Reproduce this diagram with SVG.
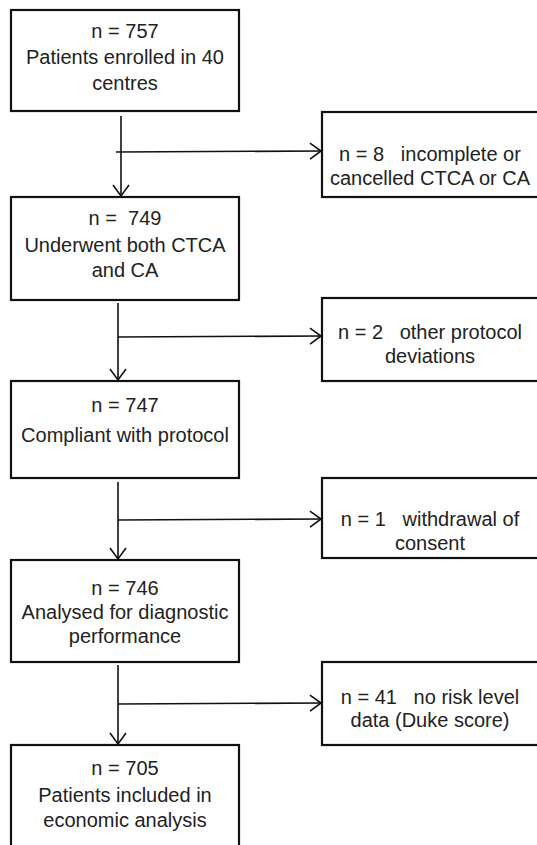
<svg xmlns="http://www.w3.org/2000/svg" width="537" height="845" viewBox="0 0 537 845">
<style>
.box{fill:#fff;stroke:#111;stroke-width:2.2}
.t{font-family:"Liberation Sans",Arial,sans-serif;font-size:20px;fill:#222;text-anchor:middle}
.c{fill:none;stroke:#111;stroke-width:1.6}
</style>
<defs>
<marker id="ah" markerUnits="userSpaceOnUse" markerWidth="14" markerHeight="20" viewBox="0 0 14 20" refX="12" refY="10" orient="auto">
<path d="M1,2 L12,10 L1,18" fill="none" stroke="#111" stroke-width="1.6"/>
</marker>
</defs>
<rect width="537" height="845" fill="#fff"/>
<g id="connectors">
<line class="c" x1="121" y1="116" x2="121" y2="196" marker-end="url(#ah)"/>
<line class="c" x1="116" y1="152" x2="321" y2="151" marker-end="url(#ah)"/>
<line class="c" x1="118" y1="303" x2="118" y2="380" marker-end="url(#ah)"/>
<line class="c" x1="118" y1="337" x2="321" y2="336" marker-end="url(#ah)"/>
<line class="c" x1="118" y1="482" x2="118" y2="559" marker-end="url(#ah)"/>
<line class="c" x1="118" y1="520" x2="321" y2="519" marker-end="url(#ah)"/>
<line class="c" x1="118" y1="665" x2="118" y2="744" marker-end="url(#ah)"/>
<line class="c" x1="118" y1="704" x2="321" y2="703" marker-end="url(#ah)"/>
</g>
<g id="n1">
<rect class="box" x="11" y="10" width="228" height="101"/>
<text class="t" x="125" y="38">n = 757</text>
<text class="t" x="125" y="64">Patients enrolled in 40</text>
<text class="t" x="125" y="90">centres</text>
</g>
<g id="x1">
<rect class="box" x="322" y="112" width="220" height="85"/>
<text class="t" x="430" y="161" xml:space="preserve">n = 8   incomplete or</text>
<text class="t" x="430" y="185">cancelled CTCA or CA</text>
</g>
<g id="n2">
<rect class="box" x="11" y="197" width="228" height="103"/>
<text class="t" x="125" y="225" xml:space="preserve">n =  749</text>
<text class="t" x="125" y="252">Underwent both CTCA</text>
<text class="t" x="125" y="277">and CA</text>
</g>
<g id="x2">
<rect class="box" x="322" y="298" width="220" height="83"/>
<text class="t" x="430" y="339" xml:space="preserve">n = 2   other protocol</text>
<text class="t" x="430" y="363">deviations</text>
</g>
<g id="n3">
<rect class="box" x="11" y="381" width="228" height="97"/>
<text class="t" x="125" y="412">n = 747</text>
<text class="t" x="125" y="442">Compliant with protocol</text>
</g>
<g id="x3">
<rect class="box" x="322" y="478" width="220" height="80"/>
<text class="t" x="430" y="526" xml:space="preserve">n = 1   withdrawal of</text>
<text class="t" x="430" y="550">consent</text>
</g>
<g id="n4">
<rect class="box" x="11" y="560" width="228" height="102"/>
<text class="t" x="125" y="595">n = 746</text>
<text class="t" x="125" y="619">Analysed for diagnostic</text>
<text class="t" x="125" y="643">performance</text>
</g>
<g id="x4">
<rect class="box" x="322" y="662" width="220" height="83"/>
<text class="t" x="430" y="704" xml:space="preserve">n = 41   no risk level</text>
<text class="t" x="430" y="727">data (Duke score)</text>
</g>
<g id="n5">
<rect class="box" x="11" y="745" width="228" height="110"/>
<text class="t" x="125" y="775">n = 705</text>
<text class="t" x="125" y="802">Patients included in</text>
<text class="t" x="125" y="827">economic analysis</text>
</g>
</svg>
